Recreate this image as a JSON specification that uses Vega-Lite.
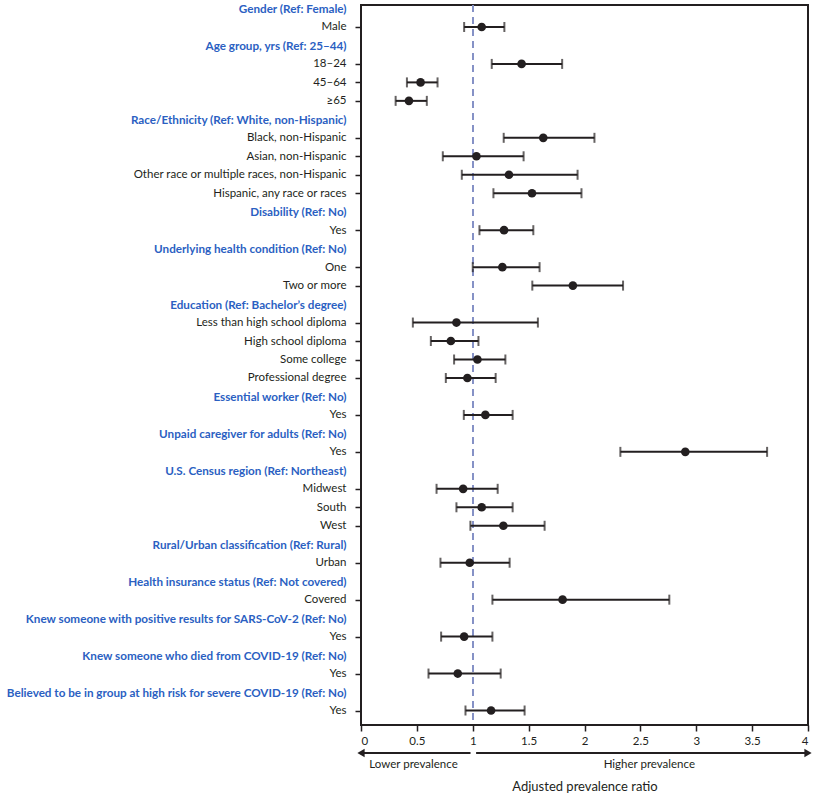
{
  "$schema": "https://vega.github.io/schema/vega-lite/v6.json",
  "background": "white",
  "padding": {"top": 2, "left": 5, "right": 5, "bottom": 5},
  "bounds": "flush",
  "spacing": 23,
  "config": {
    "font": "Lato",
    "view": {"stroke": null},
    "axis": {"labelFont": "Lato", "titleFont": "Lato", "labelColor": "#231f20", "titleColor": "#231f20"}
  },
  "datasets": {
    "estimates": [
      {"key": "Male", "apr": 1.08, "lo": 0.923, "hi": 1.283},
      {"key": "18–24", "apr": 1.437, "lo": 1.17, "hi": 1.8},
      {"key": "45–64", "apr": 0.533, "lo": 0.411, "hi": 0.685},
      {"key": "≥65", "apr": 0.429, "lo": 0.31, "hi": 0.589},
      {"key": "Black, non-Hispanic", "apr": 1.631, "lo": 1.277, "hi": 2.089},
      {"key": "Asian, non-Hispanic", "apr": 1.033, "lo": 0.732, "hi": 1.455},
      {"key": "Other race or multiple races, non-Hispanic", "apr": 1.324, "lo": 0.902, "hi": 1.938},
      {"key": "Hispanic, any race or races", "apr": 1.53, "lo": 1.185, "hi": 1.973},
      {"key": "Yes|disability", "apr": 1.28, "lo": 1.06, "hi": 1.542},
      {"key": "One", "apr": 1.265, "lo": 1.0, "hi": 1.598},
      {"key": "Two or more", "apr": 1.896, "lo": 1.533, "hi": 2.345},
      {"key": "Less than high school diploma", "apr": 0.854, "lo": 0.464, "hi": 1.583},
      {"key": "High school diploma", "apr": 0.804, "lo": 0.625, "hi": 1.051},
      {"key": "Some college", "apr": 1.042, "lo": 0.833, "hi": 1.292},
      {"key": "Professional degree", "apr": 0.952, "lo": 0.759, "hi": 1.205},
      {"key": "Yes|essential", "apr": 1.113, "lo": 0.92, "hi": 1.357},
      {"key": "Yes|caregiver", "apr": 2.902, "lo": 2.321, "hi": 3.634},
      {"key": "Midwest", "apr": 0.914, "lo": 0.676, "hi": 1.223},
      {"key": "South", "apr": 1.08, "lo": 0.854, "hi": 1.357},
      {"key": "West", "apr": 1.274, "lo": 0.979, "hi": 1.643},
      {"key": "Urban", "apr": 0.973, "lo": 0.711, "hi": 1.33},
      {"key": "Covered", "apr": 1.804, "lo": 1.176, "hi": 2.759},
      {"key": "Yes|knew positive", "apr": 0.923, "lo": 0.717, "hi": 1.176},
      {"key": "Yes|knew died", "apr": 0.866, "lo": 0.604, "hi": 1.25},
      {"key": "Yes|high risk", "apr": 1.164, "lo": 0.935, "hi": 1.464}
    ],
    "arrows": [
      {"direction": "Lower prevalence", "from": 0.98, "to": 0, "labelAt": 0.47},
      {"direction": "Higher prevalence", "from": 1.03, "to": 4, "labelAt": 2.58}
    ]
  },
  "vconcat": [
    {
      "width": 447,
      "height": 720,
      "view": {"stroke": "#231f20", "strokeWidth": 2},
      "data": {"name": "estimates"},
      "encoding": {
        "y": {
          "field": "key",
          "type": "nominal",
          "scale": {
            "type": "point",
            "padding": 0,
            "range": [3.5, 705.5],
            "domain": [
              "Gender (Ref: Female)", "Male",
              "Age group, yrs (Ref: 25–44)", "18–24", "45–64", "≥65",
              "Race/Ethnicity (Ref:  White, non-Hispanic)", "Black, non-Hispanic", "Asian, non-Hispanic", "Other race or multiple races, non-Hispanic", "Hispanic, any race or races",
              "Disability (Ref: No)", "Yes|disability",
              "Underlying health condition (Ref: No)", "One", "Two or more",
              "Education (Ref: Bachelor’s degree)", "Less than high school diploma", "High school diploma", "Some college", "Professional degree",
              "Essential worker (Ref: No)", "Yes|essential",
              "Unpaid caregiver for adults (Ref: No)", "Yes|caregiver",
              "U.S. Census region (Ref: Northeast)", "Midwest", "South", "West",
              "Rural/Urban classification (Ref: Rural)", "Urban",
              "Health insurance status (Ref: Not covered)", "Covered",
              "Knew someone with positive results for SARS-CoV-2 (Ref: No)", "Yes|knew positive",
              "Knew someone who died from COVID-19 (Ref: No)", "Yes|knew died",
              "Believed to be in group at high risk for severe COVID-19 (Ref: No)", "Yes|high risk"
            ]
          },
          "axis": {
            "title": null,
            "domain": false,
            "grid": false,
            "labelExpr": "split(datum.value, '|')[0]",
            "labelLimit": 500,
            "labelPadding": 9,
            "tickSize": 6,
            "tickWidth": 1.5,
            "tickColor": "#231f20",
            "tickOpacity": {"condition": {"test": "indexof(datum.value, '(Ref') >= 0", "value": 0}, "value": 1},
            "labelColor": {"condition": {"test": "indexof(datum.value, '(Ref') >= 0", "value": "#2b5fc2"}, "value": "#231f20"},
            "labelFontWeight": {"condition": {"test": "indexof(datum.value, '(Ref') >= 0", "value": "bold"}, "value": "normal"},
            "labelFontSize": {"condition": {"test": "indexof(datum.value, '(Ref') >= 0", "value": 11.7}, "value": 11.5}
          }
        }
      },
      "layer": [
        {
          "mark": {"type": "rule", "color": "#8591c6", "strokeDash": [7, 5], "strokeWidth": 1.5},
          "encoding": {"x": {"datum": 1, "type": "quantitative"}, "y": null}
        },
        {
          "mark": {"type": "rule", "color": "#231f20", "strokeWidth": 2},
          "encoding": {
            "x": {"field": "lo", "type": "quantitative", "scale": {"domain": [0, 4], "nice": false, "zero": false},
              "axis": {"title": null, "values": [0, 0.5, 1, 1.5, 2, 2.5, 3, 3.5, 4], "format": ".1~f", "grid": false, "domain": false, "tickSize": 6, "tickWidth": 1.5, "tickColor": "#231f20", "labelFontSize": 11.5, "labelPadding": 4}},
            "x2": {"field": "hi"}
          }
        },
        {
          "mark": {"type": "tick", "color": "#231f20", "thickness": 2, "size": 10},
          "encoding": {"x": {"field": "lo", "type": "quantitative"}}
        },
        {
          "mark": {"type": "tick", "color": "#231f20", "thickness": 2, "size": 10},
          "encoding": {"x": {"field": "hi", "type": "quantitative"}}
        },
        {
          "mark": {"type": "point", "filled": true, "color": "#231f20", "opacity": 1, "size": 75, "shape": "circle"},
          "encoding": {"x": {"field": "apr", "type": "quantitative"}}
        }
      ]
    },
    {
      "width": 447,
      "height": 10,
      "view": {"stroke": null},
      "data": {"name": "arrows"},
      "layer": [
        {
          "mark": {"type": "rule", "color": "#231f20", "strokeWidth": 2},
          "encoding": {
            "x": {"field": "from", "type": "quantitative", "scale": {"domain": [0, 4], "nice": false, "zero": false},
              "axis": {"title": "Adjusted prevalence ratio", "labels": false, "ticks": false, "domain": false, "grid": false, "titleFontSize": 13, "titleFontWeight": "normal", "titlePadding": 22}},
            "x2": {"field": "to"}
          }
        },
        {
          "mark": {"type": "point", "filled": true, "color": "#231f20", "opacity": 1, "size": 70},
          "encoding": {
            "x": {"field": "to", "type": "quantitative"},
            "shape": {"field": "direction", "type": "nominal", "scale": {"domain": ["Lower prevalence", "Higher prevalence"], "range": ["triangle-left", "triangle-right"]}, "legend": null}
          }
        },
        {
          "mark": {"type": "text", "color": "#231f20", "fontSize": 11.5, "dy": 12, "font": "Lato"},
          "encoding": {
            "x": {"field": "labelAt", "type": "quantitative"},
            "text": {"field": "direction"}
          }
        }
      ]
    }
  ]
}
